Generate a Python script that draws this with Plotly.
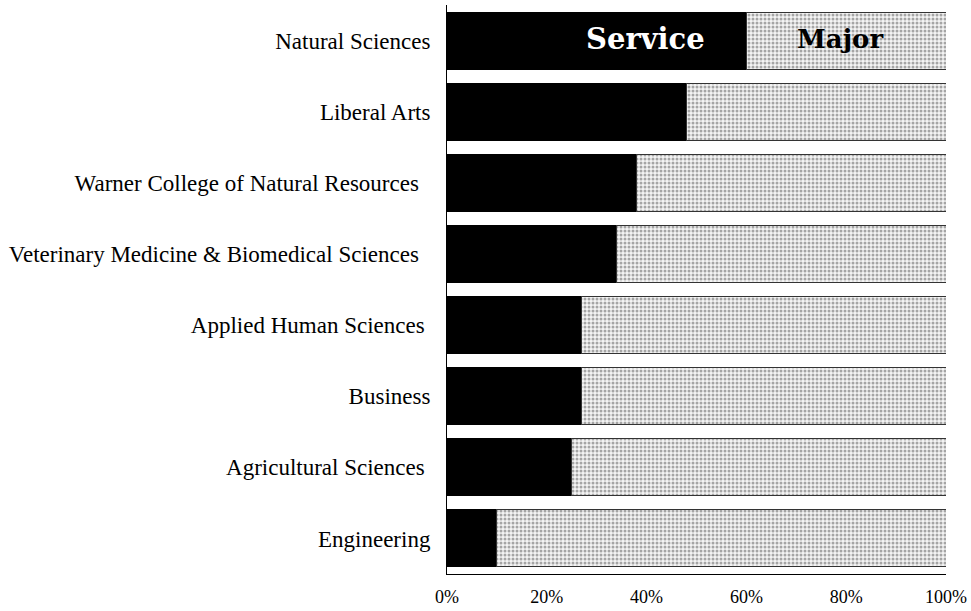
import plotly.graph_objects as go

colleges = [
    "Natural Sciences",
    "Liberal Arts",
    "Warner College of Natural Resources\u00a0\u00a0",
    "Veterinary Medicine & Biomedical Sciences\u00a0\u00a0",
    "Applied Human Sciences\u00a0",
    "Business",
    "Agricultural Sciences\u00a0",
    "Engineering",
]
service_pct = [60, 48, 38, 34, 27, 27, 25, 10]
major_pct = [100 - v for v in service_pct]

x_ticks = [0, 20, 40, 60, 80, 100]
x_tick_labels = ["0%", "20%", "40%", "60%", "80%", "100%"]

fig = go.Figure()
fig.add_trace(go.Bar(
    name="Service", y=colleges, x=service_pct, orientation="h",
    marker=dict(color="black", line=dict(color="black", width=1)),
))
fig.add_trace(go.Bar(
    name="Major", y=colleges, x=major_pct, orientation="h",
    marker=dict(color="#cccccc",
                line=dict(color="#333333", width=1),
                pattern=dict(shape=".", fgcolor="#555555", bgcolor="#f4f4f4",
                             size=4, solidity=0.45)),
))

fig.add_annotation(x=39.7, y=colleges[0], text="<b>Service</b>", showarrow=False,
                   font=dict(family="DejaVu Serif", size=29, color="white"), yshift=2)
fig.add_annotation(x=78.8, y=colleges[0], text="<b>Major</b>", showarrow=False,
                   font=dict(family="DejaVu Serif", size=26, color="black"), yshift=2)

fig.update_layout(
    barmode="stack",
    bargap=0.2,
    width=971, height=611,
    margin=dict(l=447, r=25, t=5, b=37),
    plot_bgcolor="white", paper_bgcolor="white",
    showlegend=False,
    font=dict(family="Liberation Serif", color="black"),
)
fig.update_yaxes(autorange="reversed", showline=True, linecolor="black", linewidth=1,
                 showgrid=False, ticks="", tickfont=dict(size=23, family="Liberation Serif"),
                 ticklabelstandoff=11, automargin=False)
fig.update_xaxes(range=[0, 100], tickvals=x_ticks, ticktext=x_tick_labels,
                 showline=True, linecolor="black", linewidth=1, showgrid=False,
                 zeroline=False, ticks="", tickfont=dict(size=18, family="Liberation Serif"),
                 ticklabelstandoff=6, automargin=False)

fig.write_html("out.html", config={"displayModeBar": False},
               post_script="document.body.style.margin='0';")
